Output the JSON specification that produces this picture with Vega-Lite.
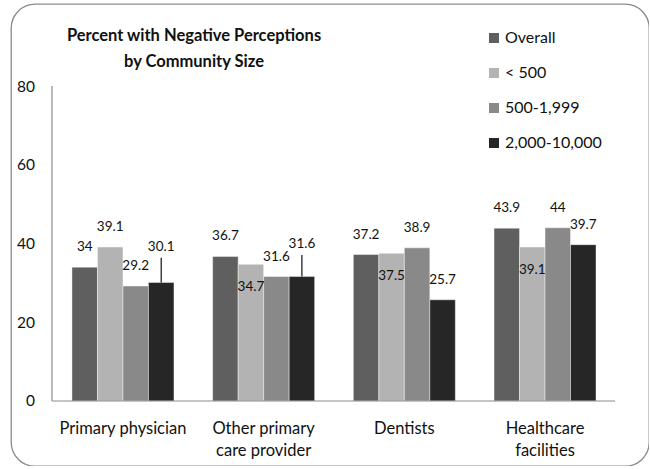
{
  "$schema": "https://vega.github.io/schema/vega-lite/v6.json",
  "width": 638,
  "height": 462,
  "autosize": {"type": "none"},
  "padding": {"left": 11, "top": 4, "right": 0, "bottom": 0},
  "background": "white",
  "config": {
    "font": "Lato",
    "view": {"stroke": "#8a8a8a", "strokeWidth": 1.3, "cornerRadius": 24}
  },
  "title": {
    "text": ["Percent with Negative Perceptions", "by Community Size"],
    "anchor": "middle",
    "frame": "group",
    "dx": -136,
    "dy": 66,
    "offset": 0,
    "baseline": "top",
    "lineHeight": 26,
    "font": "Lato",
    "fontSize": 16.5,
    "fontWeight": "bold",
    "color": "#111111"
  },
  "datasets": {
    "perceptions": [
      {"category": "Primary physician", "size": "Overall", "value": 34},
      {"category": "Primary physician", "size": "< 500", "value": 39.1},
      {"category": "Primary physician", "size": "500-1,999", "value": 29.2},
      {"category": "Primary physician", "size": "2,000-10,000", "value": 30.1, "upper": 36.4},
      {"category": "Other primary care provider", "size": "Overall", "value": 36.7},
      {"category": "Other primary care provider", "size": "< 500", "value": 34.7},
      {"category": "Other primary care provider", "size": "500-1,999", "value": 31.6},
      {"category": "Other primary care provider", "size": "2,000-10,000", "value": 31.6, "upper": 37.1},
      {"category": "Dentists", "size": "Overall", "value": 37.2},
      {"category": "Dentists", "size": "< 500", "value": 37.5},
      {"category": "Dentists", "size": "500-1,999", "value": 38.9},
      {"category": "Dentists", "size": "2,000-10,000", "value": 25.7},
      {"category": "Healthcare facilities", "size": "Overall", "value": 43.9},
      {"category": "Healthcare facilities", "size": "< 500", "value": 39.1},
      {"category": "Healthcare facilities", "size": "500-1,999", "value": 44},
      {"category": "Healthcare facilities", "size": "2,000-10,000", "value": 39.7}
    ]
  },
  "data": {"name": "perceptions"},
  "layer": [
    {
      "mark": {"type": "bar", "stroke": "#ffffff", "strokeWidth": 0.6, "strokeOpacity": 0.7},
      "encoding": {
        "x": {
          "field": "category",
          "type": "nominal",
          "scale": {
            "domain": ["Primary physician", "Other primary care provider", "Dentists", "Healthcare facilities"],
            "paddingInner": 0.275,
            "paddingOuter": 0.405,
            "align": 0.535
          },
          "axis": {
            "orient": "bottom",
            "offset": -65,
            "title": null,
            "domain": false,
            "ticks": false,
            "tickSize": 0,
            "labelAngle": 0,
            "labelPadding": 19,
            "labelBaseline": "top",
            "labelLineHeight": 22,
            "labelFontSize": 16.5,
            "labelColor": "#111111",
            "labelLimit": 0,
            "labelOverlap": false,
            "labelExpr": "datum.label == 'Other primary care provider' ? ['Other primary', 'care provider'] : datum.label == 'Healthcare facilities' ? ['Healthcare', 'facilities'] : datum.label"
          }
        },
        "xOffset": {
          "field": "size",
          "type": "nominal",
          "sort": ["Overall", "< 500", "500-1,999", "2,000-10,000"],
          "scale": {"paddingInner": 0, "paddingOuter": 0}
        },
        "y": {
          "field": "value",
          "type": "quantitative",
          "scale": {"domain": [-16.51, 100.83], "nice": false, "zero": false},
          "axis": {
            "orient": "left",
            "offset": -23.5,
            "title": null,
            "values": [0, 20, 40, 60, 80],
            "domain": false,
            "ticks": false,
            "tickSize": 0,
            "grid": false,
            "labelPadding": 0,
            "labelFontSize": 15.5,
            "labelColor": "#111111"
          }
        },
        "y2": {"datum": 0},
        "color": {
          "field": "size",
          "type": "nominal",
          "sort": ["Overall", "< 500", "500-1,999", "2,000-10,000"],
          "scale": {
            "domain": ["Overall", "< 500", "500-1,999", "2,000-10,000"],
            "range": ["#5f5f5f", "#b3b3b3", "#898989", "#262626"]
          },
          "legend": {
            "title": null,
            "orient": "none",
            "legendX": 475,
            "legendY": 26,
            "symbolType": "square",
            "symbolSize": 100,
            "symbolStrokeWidth": 0,
            "labelFontSize": 16,
            "labelColor": "#111111",
            "labelOffset": 3,
            "rowPadding": 19
          }
        }
      }
    },
    {
      "data": {"values": [{}]},
      "mark": {"type": "rule", "color": "#8c8c8c", "strokeWidth": 1.2},
      "encoding": {
        "x": {"datum": "Primary physician", "type": "nominal", "bandPosition": -0.196},
        "y": {"datum": 0, "type": "quantitative"},
        "y2": {"datum": 80}
      }
    },
    {
      "data": {"values": [{}]},
      "mark": {"type": "rule", "color": "#8c8c8c", "strokeWidth": 1.2},
      "encoding": {
        "x": {"datum": "Primary physician", "type": "nominal", "bandPosition": -0.196},
        "x2": {"datum": "Healthcare facilities", "bandPosition": 1.186},
        "y": {"datum": 0, "type": "quantitative"}
      }
    },
    {
      "transform": [{"filter": "datum.upper != null"}],
      "mark": {"type": "rule", "color": "#111111", "strokeWidth": 1.2},
      "encoding": {
        "x": {"field": "category", "type": "nominal"},
        "xOffset": {"field": "size", "type": "nominal", "sort": ["Overall", "< 500", "500-1,999", "2,000-10,000"]},
        "y": {"field": "value", "type": "quantitative"},
        "y2": {"field": "upper"}
      }
    },
    {
      "transform": [{"filter": "datum.upper == null && !(datum.size == '< 500' && datum.category != 'Primary physician')"}],
      "mark": {"type": "text", "dy": -20, "fontSize": 13.5, "baseline": "middle", "color": "#111111"},
      "encoding": {
        "x": {"field": "category", "type": "nominal"},
        "xOffset": {"field": "size", "type": "nominal", "sort": ["Overall", "< 500", "500-1,999", "2,000-10,000"]},
        "y": {"field": "value", "type": "quantitative"},
        "text": {"field": "value", "type": "quantitative", "format": "~g"}
      }
    },
    {
      "transform": [{"filter": "datum.size == '< 500' && datum.category != 'Primary physician'"}],
      "mark": {"type": "text", "dy": 23, "fontSize": 13.5, "baseline": "middle", "color": "#111111"},
      "encoding": {
        "x": {"field": "category", "type": "nominal"},
        "xOffset": {"field": "size", "type": "nominal", "sort": ["Overall", "< 500", "500-1,999", "2,000-10,000"]},
        "y": {"field": "value", "type": "quantitative"},
        "text": {"field": "value", "type": "quantitative", "format": "~g"}
      }
    },
    {
      "transform": [{"filter": "datum.upper != null"}],
      "mark": {"type": "text", "dy": -11, "fontSize": 13.5, "baseline": "middle", "color": "#111111"},
      "encoding": {
        "x": {"field": "category", "type": "nominal"},
        "xOffset": {"field": "size", "type": "nominal", "sort": ["Overall", "< 500", "500-1,999", "2,000-10,000"]},
        "y": {"field": "upper", "type": "quantitative"},
        "text": {"field": "value", "type": "quantitative", "format": "~g"}
      }
    }
  ]
}
